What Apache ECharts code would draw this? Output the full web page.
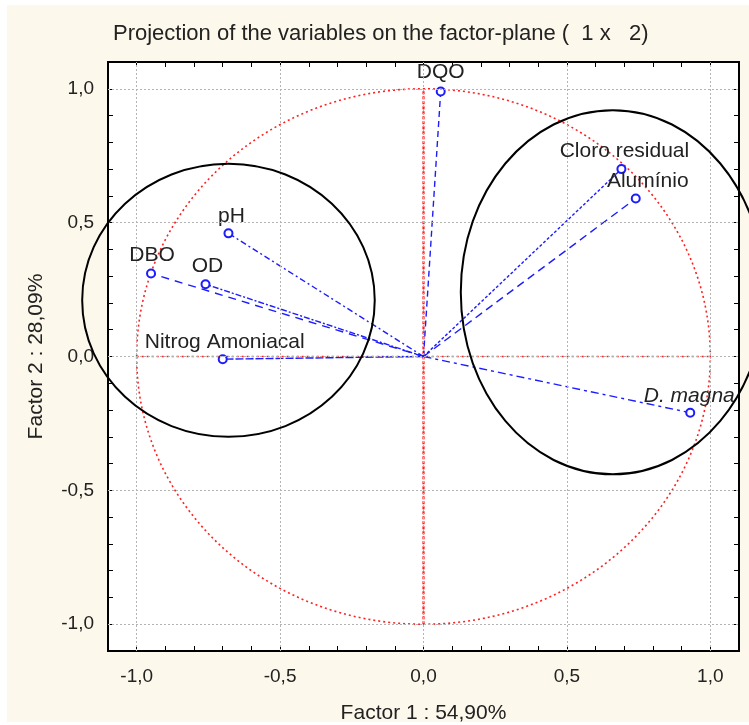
<!DOCTYPE html>
<html>
<head>
<meta charset="utf-8">
<script src="https://cdn.jsdelivr.net/npm/echarts@6/dist/echarts.min.js"></script>
<style>
html, body { margin: 0; padding: 0; background: #fff; }
#chart { width: 749px; height: 725px; }
</style>
</head>
<body>
<div id="chart"></div>
<script>
// variable loadings on factor 1 / factor 2
var names = ['DQO', 'Cloro residual', 'Alumínio', 'pH', 'DBO', 'OD', 'Nitrog Amoniacal', 'D. magna'];
var factor1 = [0.06, 0.69, 0.74, -0.68, -0.95, -0.76, -0.70, 0.93];
var factor2 = [0.99, 0.70, 0.59, 0.46, 0.31, 0.27, -0.01, -0.21];
var majorTicks = [-1.0, -0.5, 0.0, 0.5, 1.0];
// hand drawn groups (centre x, centre y, radius x, radius y in factor units)
var groupCx = [-0.68, 0.66];
var groupCy = [0.21, 0.24];
var groupRx = [0.51, 0.53];
var groupRy = [0.51, 0.68];

var font = 'Liberation Sans, Arial, sans-serif';
var blue = '#1c1cff';
var dashes = [[6, 4], [3, 2], [8, 5], [6, 3, 2, 3], [8, 6], [6, 2, 2, 2], [8, 2], [8, 4, 3, 4]];
var labelShift = {
    'DQO': [0, 1], 'Cloro residual': [3, 3], 'Alumínio': [12, 3], 'pH': [3, 3],
    'DBO': [1, 2], 'OD': [2, 2], 'Nitrog Amoniacal': [2, 4], 'D. magna': [-1, 4]
};

var chart = echarts.init(document.getElementById('chart'));

function fmt(v) {
    var r = Math.round(v * 10);
    if (r % 5 !== 0) return '';
    return (r / 10).toFixed(1).replace('.', ',');
}

function ellipseItem(stroke, width, dash) {
    return function (params, api) {
        var c = api.coord([api.value(0), api.value(1)]);
        var s = api.size([api.value(2), api.value(3)]);
        return {
            type: 'ellipse',
            shape: { cx: c[0], cy: c[1], rx: s[0], ry: s[1] },
            style: { fill: 'none', stroke: stroke, lineWidth: width, lineDash: dash }
        };
    };
}

var series = [];

// grid lines at major ticks
var gridLines = [];
for (var i = 0; i < majorTicks.length; i++) {
    gridLines.push({ xAxis: majorTicks[i] });
    gridLines.push({ yAxis: majorTicks[i] });
}
series.push({
    type: 'line', data: [], silent: true,
    markLine: {
        silent: true, symbol: 'none', label: { show: false },
        lineStyle: { color: '#b4b4b4', type: [2, 2], width: 1 },
        data: gridLines
    }
});

// unit circle and red axes
series.push({
    type: 'custom', silent: true, z: 3,
    data: [[0, 0, 1, 1]],
    renderItem: ellipseItem('#ff2020', 1.6, [2, 3])
});
series.push({
    type: 'line', silent: true, symbol: 'none', z: 3,
    data: [[0, -1], [0, 1]],
    lineStyle: { color: '#ff2020', width: 2.2, type: [3, 2] }
});
series.push({
    type: 'line', silent: true, symbol: 'none', z: 3,
    data: [[-1, 0], [1, 0]],
    lineStyle: { color: '#ff2020', width: 1.6, type: [2, 3] }
});

// variable vectors
for (var i = 0; i < names.length; i++) {
    var italic = names[i] === 'D. magna';
    series.push({
        type: 'line', silent: true, z: 4,
        symbol: 'emptyCircle', symbolSize: 8,
        itemStyle: { color: blue, borderWidth: 1.5 },
        lineStyle: { color: blue, width: 1.4, type: dashes[i] },
        data: [
            { value: [0, 0], symbol: 'none' },
            {
                value: [factor1[i], factor2[i]],
                label: {
                    show: true, position: 'top', distance: 5,
                    offset: labelShift[names[i]],
                    formatter: names[i],
                    fontFamily: font, fontSize: 21, color: '#222',
                    fontStyle: italic ? 'italic' : 'normal'
                }
            }
        ]
    });
}

// hand drawn ellipses
var groups = [];
for (var i = 0; i < groupCx.length; i++) groups.push([groupCx[i], groupCy[i], groupRx[i], groupRy[i]]);
series.push({
    type: 'custom', silent: true, z: 5, clip: false,
    data: groups,
    renderItem: ellipseItem('#000', 2, null)
});

var tickStyle = { inside: true, length: 5, lineStyle: { color: '#000', width: 1 } };
var axisBase = {
    type: 'value', min: -1.1, max: 1.1, interval: 0.1,
    splitLine: { show: false },
    axisLine: { show: true, onZero: false, lineStyle: { color: '#000', width: 2 } },
    axisTick: tickStyle
};

chart.setOption({
    backgroundColor: '#fff',
    animation: false,
    graphic: [{
        type: 'rect', z: -10, silent: true,
        shape: { x: 7, y: 5, width: 742, height: 717 },
        style: { fill: '#fdf8ec' }
    }],
    title: {
        text: 'Projection of the variables on the factor-plane (  1 x   2)',
        left: 108, top: 18,
        textStyle: { fontFamily: font, fontSize: 22, fontWeight: 'normal', color: '#222' }
    },
    grid: {
        left: 108, right: 10, top: 62, bottom: 74,
        outerBoundsMode: 'none', containLabel: false,
        show: true, backgroundColor: '#fff', borderColor: '#000', borderWidth: 2
    },
    xAxis: [
        Object.assign({}, axisBase, {
            position: 'bottom',
            name: 'Factor 1 : 54,90%', nameLocation: 'middle', nameGap: 52,
            nameTextStyle: { fontFamily: font, fontSize: 21, color: '#222' },
            axisLabel: { formatter: fmt, margin: 16, fontFamily: font, fontSize: 19, color: '#222' }
        }),
        Object.assign({}, axisBase, { position: 'top', axisLabel: { show: false } })
    ],
    yAxis: [
        Object.assign({}, axisBase, {
            position: 'left',
            name: 'Factor 2 : 28,09%', nameLocation: 'middle', nameGap: 61, nameRotate: 90,
            nameTextStyle: { fontFamily: font, fontSize: 21, color: '#222' },
            axisLabel: { formatter: fmt, margin: 14, fontFamily: font, fontSize: 19, color: '#222' }
        }),
        Object.assign({}, axisBase, { position: 'right', axisLabel: { show: false } })
    ],
    series: series
});
</script>
</body>
</html>
